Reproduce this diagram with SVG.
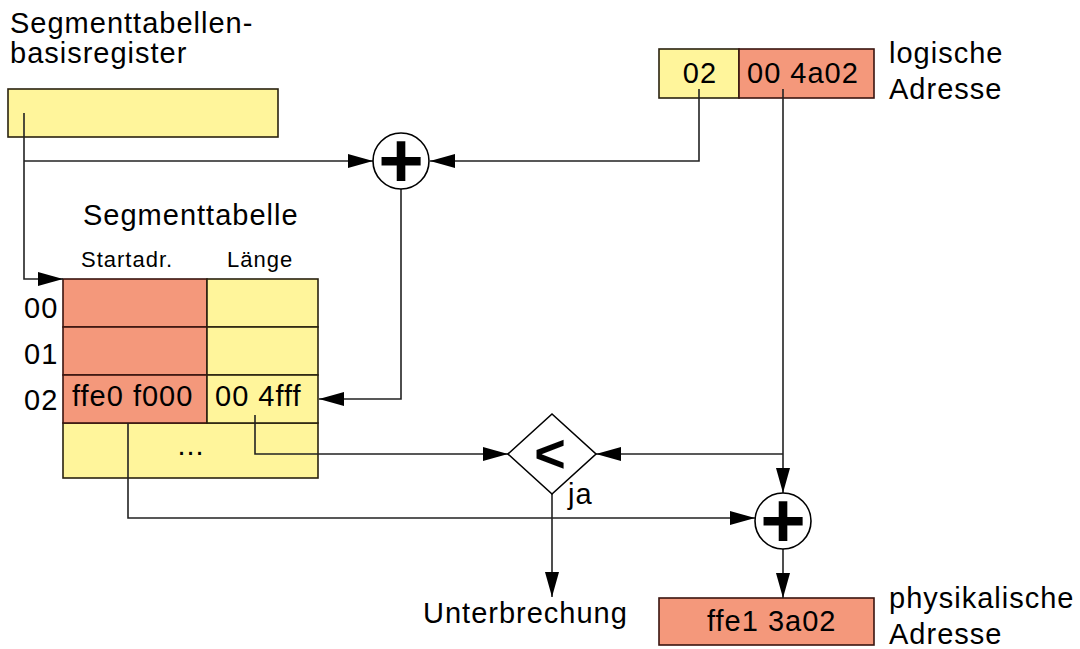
<svg xmlns="http://www.w3.org/2000/svg" width="1080" height="649" viewBox="0 0 1080 649">
<style>
text{font-family:"Liberation Sans",Arial,sans-serif;fill:#000}
.t{font-size:29px;letter-spacing:1px}
.s{font-size:22px;letter-spacing:1px}
.y{fill:#fff59b;stroke:#2a2210;stroke-width:1.6}
.r{fill:#f4987b;stroke:#3a1510;stroke-width:1.6}
.op{font-size:78px;font-weight:bold;text-anchor:middle}
.c{fill:#fff;stroke:#000;stroke-width:1.6}
#connectors path{fill:none;stroke:#222;stroke-width:1.6;marker-end:url(#ah)}
</style>
<defs>
<marker id="ah" markerUnits="userSpaceOnUse" markerWidth="25" markerHeight="14" refX="25" refY="7" orient="auto" viewBox="0 0 25 14">
<path d="M0,0 L25,7 L0,14 z" fill="#000"/>
</marker>
</defs>
<rect width="1080" height="649" fill="#fff"/>

<g id="register">
<text class="t" x="10" y="33">Segmenttabellen-</text>
<text class="t" x="10" y="63">basisregister</text>
<rect class="y" x="8" y="89" width="270" height="48"/>
</g>

<g id="logical">
<rect class="y" x="659" y="49" width="80" height="49"/>
<rect class="r" x="739" y="49" width="135" height="49"/>
<text class="t" x="700" y="83" text-anchor="middle">02</text>
<text class="t" x="747" y="83">00 4a02</text>
<text class="t" x="889" y="63">logische</text>
<text class="t" x="889" y="99">Adresse</text>
</g>

<g id="table">
<text class="t" x="83" y="225">Segmenttabelle</text>
<text class="s" x="81" y="267">Startadr.</text>
<text class="s" x="227" y="267">Länge</text>
<rect class="y" x="63" y="423" width="255" height="55"/>
<rect class="r" x="63" y="279" width="144" height="48"/>
<rect class="y" x="207" y="279" width="111" height="48"/>
<rect class="r" x="63" y="327" width="144" height="48"/>
<rect class="y" x="207" y="327" width="111" height="48"/>
<rect class="r" x="63" y="375" width="144" height="48"/>
<rect class="y" x="207" y="375" width="111" height="48"/>
<text class="t" x="24" y="318">00</text>
<text class="t" x="24" y="364">01</text>
<text class="t" x="24" y="410">02</text>
<text class="t" x="72" y="406">ffe0 f000</text>
<text class="t" x="215" y="406">00 4fff</text>
<text class="t" x="191" y="455" text-anchor="middle">...</text>
</g>

<g id="interrupt">
<text class="t" x="423" y="623">Unterbrechung</text>
</g>

<g id="physical">
<rect class="r" x="659" y="598" width="215" height="47"/>
<text class="t" x="707" y="631">ffe1 3a02</text>
<text class="t" x="889" y="608">physikalische</text>
<text class="t" x="889" y="644">Adresse</text>
</g>

<g id="connectors">
<path d="M24,113 V279 H63"/>
<path d="M24,161 H373"/>
<path d="M699,89 V161 H430"/>
<path d="M401,189 V399 H319"/>
<path d="M255,415 V454 H508"/>
<path d="M783,89 V493"/>
<path d="M783,454 H596"/>
<path d="M128,423 V518 H755"/>
<path d="M552,494 V597"/>
<path d="M783,549 V598"/>
</g>

<g id="plus1">
<circle class="c" cx="401" cy="161" r="28"/>
<text class="op" x="401" y="187">+</text>
</g>

<g id="compare">
<path d="M552,414 L596,454 L552,494 L508,454 z" fill="#fff" stroke="#000" stroke-width="1.6"/>
<text x="550" y="472" font-size="54" font-weight="bold" text-anchor="middle">&lt;</text>
<text class="t" x="568" y="504">ja</text>
</g>

<g id="plus2">
<circle class="c" cx="783" cy="521" r="28"/>
<text class="op" x="783" y="547">+</text>
</g>
</svg>
